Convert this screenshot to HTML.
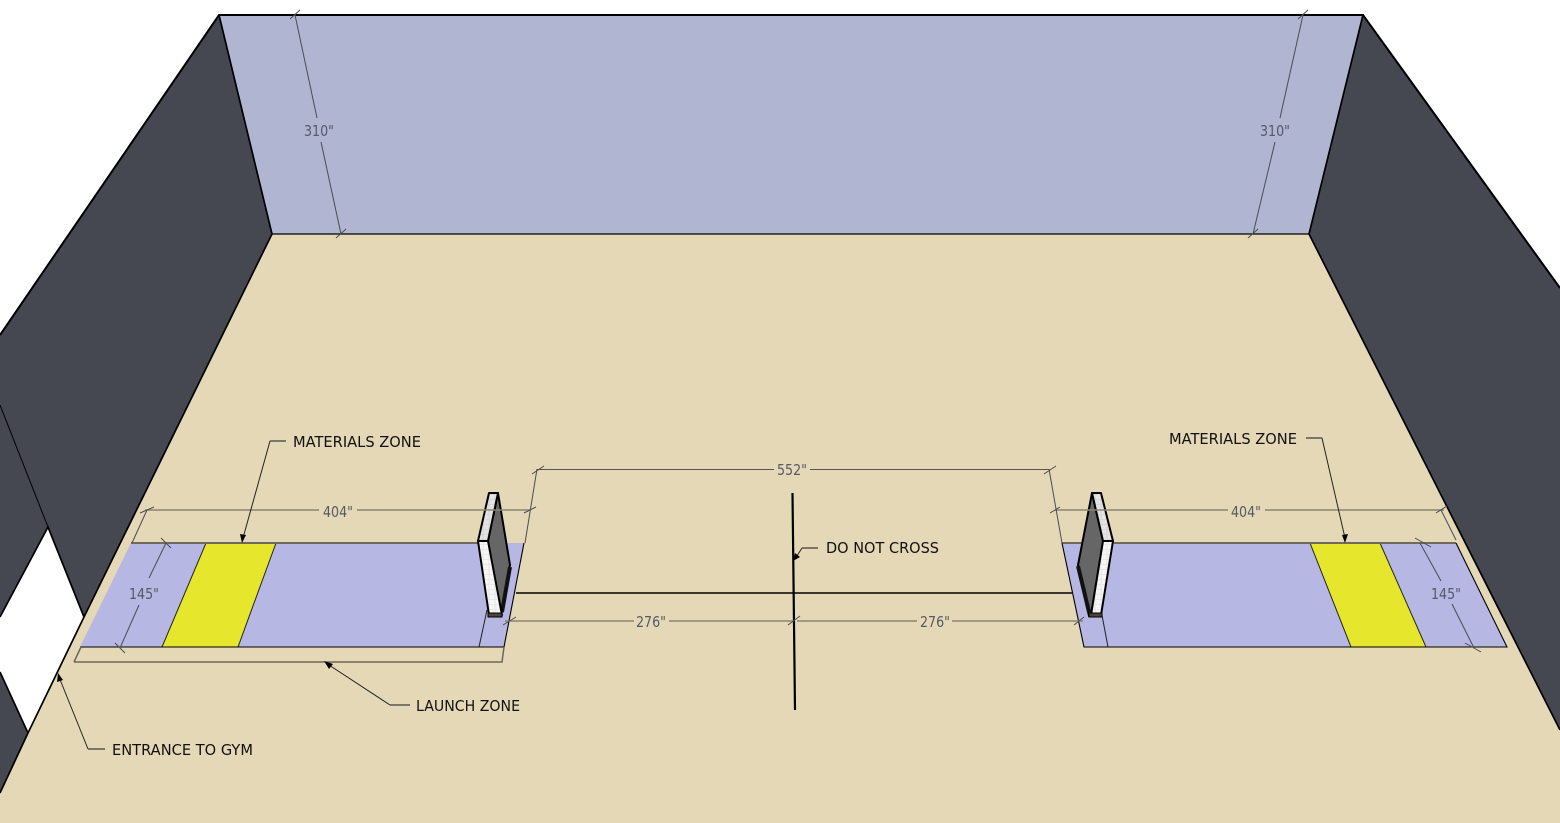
<!DOCTYPE html>
<html><head><meta charset="utf-8"><style>
html,body{margin:0;padding:0;background:#fff}
svg{display:block}
text{font-family:"DejaVu Sans","Liberation Sans",sans-serif}
.l{font-size:15px;fill:#111}
.d{font-size:15px;fill:#555a66;text-anchor:middle}
</style></head><body>
<svg width="1560" height="823" viewBox="0 0 1560 823" xmlns="http://www.w3.org/2000/svg">
<defs>
<pattern id="b" width="6" height="5" patternUnits="userSpaceOnUse">
<rect width="6" height="5" fill="#f6f6f6"/>
<path d="M0,4.500H6M3,0V4.500" stroke="#dcdcdc" stroke-width="0.6"/>
</pattern>
<pattern id="c" width="6" height="5" patternUnits="userSpaceOnUse">
<rect width="6" height="5" fill="#e4e4e4"/>
<path d="M0,4.500H6M3,0V4.500" stroke="#cccccc" stroke-width="0.6"/>
</pattern>
</defs>
<rect width="1560" height="823" fill="#fff"/>
<!-- walls -->
<polygon points="219,15 1363,15 1309,234 272,234" fill="#b0b5d2"/>
<polygon points="219,15 272,234 28,733 0,793 0,335" fill="#454751"/>
<polygon points="1363,15 1560,288 1560,730 1309,234" fill="#454751"/>
<polygon points="272,234 1309,234 1560,730 1560,823 0,823 0,793 28,733 84,617" fill="#e4d8b6"/>
<polygon points="48,527 84,617 28,733 0,672 0,617" fill="#fff"/>
<g fill="none" stroke="#000" stroke-width="2">
<path d="M0,335 L219,15 H1363 L1560,288"/>
<path d="M219,15 L272,234 L84,617 L28,733 L0,793" stroke-width="1.700"/>
<path d="M1363,15 L1309,234 L1560,730" stroke-width="1.700"/>
<path d="M0,617 L48,527 L84,617" stroke-width="1.700"/>
<path d="M0,672 L28,733" stroke-width="1.700"/>
<path d="M272,234H1309" stroke-width="1.200"/>
<path d="M0,405 L48,527" stroke-width="1"/>
</g>
<!-- left zone -->
<polygon points="131,543 524,543 504,647 80,647" fill="#b6b7e3"/>
<polygon points="206,543 276,543 238,647 162,647" fill="#e6e62c" stroke="#222" stroke-width="1"/>
<path d="M131,543H479" stroke="#6e6b5e" stroke-width="2" fill="none"/>
<path d="M80,647H504L524,543" stroke="#000" stroke-width="1.100" fill="none"/>
<path d="M487,610L479,647" stroke="#222" stroke-width="1" fill="none"/>
<path d="M74,662H502L504,647M74,662L81,647" stroke="#6b6858" stroke-width="1.500" fill="none"/>
<!-- right zone -->
<polygon points="1062,543 1456,543 1507,647 1084,647" fill="#b6b7e3"/>
<polygon points="1310,543 1380,543 1426,647 1351,647" fill="#e6e62c" stroke="#222" stroke-width="1"/>
<path d="M1062,543H1456" stroke="#6e6b5e" stroke-width="2" fill="none"/>
<path d="M1062,543L1084,647H1507L1456,543" stroke="#000" stroke-width="1.100" fill="none"/>
<path d="M1101,610L1108,647" stroke="#222" stroke-width="1" fill="none"/>
<!-- centre lines -->
<path d="M516,593H1072" stroke="#000" stroke-width="1.500" fill="none"/>
<path d="M792.500,493L795,710" stroke="#000" stroke-width="2.200" fill="none"/>
<!-- left panel -->
<polygon points="498,493 510,565 501,616 488,541" fill="#666" stroke="#000" stroke-width="2" stroke-linejoin="round"/>
<path d="M510,567L502,612" stroke="#111" stroke-width="4"/>
<polygon points="489,493 498,493 488,541 478,541" fill="url(#c)" stroke="#000" stroke-width="2" stroke-linejoin="round"/>
<polygon points="478,541 488,541 502,615 489,615" fill="url(#b)" stroke="#000" stroke-width="2" stroke-linejoin="round"/>
<rect x="488" y="613" width="14" height="4" fill="#4a4636" stroke="#000" stroke-width="1"/>
<!-- right panel -->
<polygon points="1092,493 1103,541 1091,615 1089,616 1078,565" fill="#666" stroke="#000" stroke-width="2" stroke-linejoin="round"/>
<path d="M1078,566L1089,612" stroke="#111" stroke-width="4"/>
<polygon points="1092,493 1101,493 1113,541 1103,541" fill="url(#c)" stroke="#000" stroke-width="2" stroke-linejoin="round"/>
<polygon points="1103,541 1113,541 1101,615 1091,615" fill="url(#b)" stroke="#000" stroke-width="2" stroke-linejoin="round"/>
<rect x="1089" y="613" width="13" height="4" fill="#4a4636" stroke="#000" stroke-width="1"/>
<!-- dimensions horizontal -->
<g fill="none" stroke="#8a8672" stroke-width="1.500">
<path d="M145,510H319M357,510H530"/>
<path d="M1055,510H1228M1265,510H1444"/>
<path d="M505,621H634M669,621H793M797,621H917M952,621H1083"/>
</g>
<path d="M537,469.500H774M810,469.500H1049" stroke="#555" stroke-width="1" fill="none"/>
<!-- dimensions slanted -->
<g fill="none" stroke="#4c4c54" stroke-width="1">
<path d="M295,15L317,118M321,142L341,234"/>
<path d="M1303,15L1280,118M1275,142L1253,234"/>
<path d="M166,543L149,578M139,605L120,648"/>
<path d="M1420,543L1441,581M1452,604L1474,648"/>
<path d="M537,469L525,543M1049,469L1062,543"/>
<path d="M147,510L132,543M1441,510L1456,540"/>
<!-- ticks -->
<path d="M290,19L300,10M336,238L346,229"/>
<path d="M1298,19L1308,10M1248,238L1258,229"/>
<path d="M161,538L171,548M115,643L125,653"/>
<path d="M1415,538L1431,547M1465,643L1481,652"/>
<path d="M532,474L544,466M1044,474L1056,466"/>
<path d="M524,513L536,507M1050,513L1060,507"/>
<path d="M140,513L154,507M1436,513L1447,506"/>
<path d="M503,625L516,617M1074,625L1084,617M788,625L800,616"/>
</g>
<!-- leaders -->
<g fill="none" stroke="#222" stroke-width="1">
<path d="M270,441L243,538"/>
<path d="M1322,438L1345,538"/>
<path d="M390,705L329,665"/>
<path d="M88,749L59,677"/>
<path d="M802,548L795,559"/>
</g>
<g fill="none" stroke="#555" stroke-width="1.400">
<path d="M286,441H270M1306,438H1322M410,705H390M105,749H88M818,548H802"/>
</g>
<g fill="#000">
<polygon points="242,543 240,534 246,535"/>
<polygon points="1345,543 1342,535 1348,534"/>
<polygon points="324,661 333,664 329,669"/>
<polygon points="58,673 63,680 57,682"/>
<polygon points="793,561 795,553 800,557"/>
</g>
<!-- dim labels -->
<text class="d" x="319" y="136" textLength="30" lengthAdjust="spacingAndGlyphs">310"</text>
<text class="d" x="1275" y="136" textLength="30" lengthAdjust="spacingAndGlyphs">310"</text>
<text class="d" x="792" y="475" textLength="30" lengthAdjust="spacingAndGlyphs">552"</text>
<text class="d" x="338" y="517" textLength="30" lengthAdjust="spacingAndGlyphs">404"</text>
<text class="d" x="1246" y="517" textLength="30" lengthAdjust="spacingAndGlyphs">404"</text>
<text class="d" x="144" y="599" textLength="30" lengthAdjust="spacingAndGlyphs">145"</text>
<text class="d" x="1446" y="599" textLength="30" lengthAdjust="spacingAndGlyphs">145"</text>
<text class="d" x="651" y="627" textLength="30" lengthAdjust="spacingAndGlyphs">276"</text>
<text class="d" x="935" y="627" textLength="30" lengthAdjust="spacingAndGlyphs">276"</text>
<!-- labels -->
<text class="l" x="293" y="447" textLength="128" lengthAdjust="spacingAndGlyphs">MATERIALS ZONE</text>
<text class="l" x="1169" y="444" textLength="128" lengthAdjust="spacingAndGlyphs">MATERIALS ZONE</text>
<text class="l" x="826" y="553" textLength="113" lengthAdjust="spacingAndGlyphs">DO NOT CROSS</text>
<text class="l" x="416" y="711" textLength="104" lengthAdjust="spacingAndGlyphs">LAUNCH ZONE</text>
<text class="l" x="112" y="755" textLength="141" lengthAdjust="spacingAndGlyphs">ENTRANCE TO GYM</text>
</svg>
</body></html>
